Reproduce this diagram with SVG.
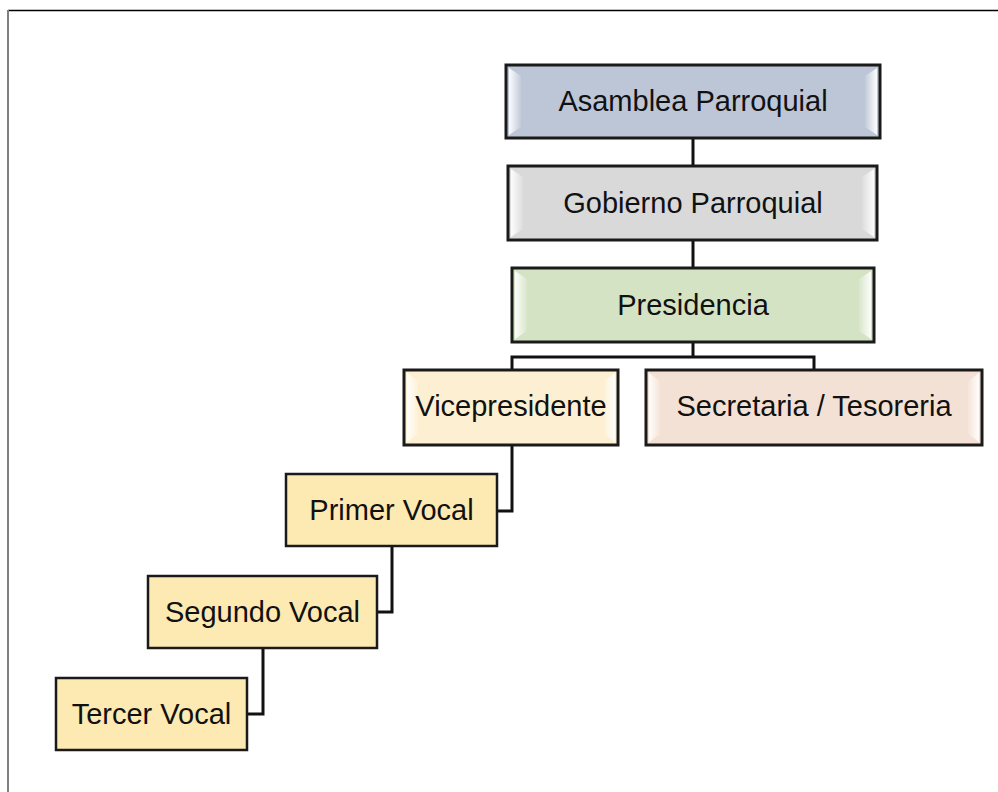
<svg xmlns="http://www.w3.org/2000/svg" width="998" height="792" viewBox="0 0 998 792">
<defs>
<linearGradient id="bevL" x1="0" y1="0" x2="1" y2="0">
<stop offset="0" stop-color="#ffffff" stop-opacity="0.95"/>
<stop offset="1" stop-color="#ffffff" stop-opacity="0.1"/>
</linearGradient>
<linearGradient id="bevR" x1="1" y1="0" x2="0" y2="0">
<stop offset="0" stop-color="#ffffff" stop-opacity="0.95"/>
<stop offset="1" stop-color="#ffffff" stop-opacity="0.1"/>
</linearGradient>
<style>
.box{stroke:#1a1a1a;stroke-width:3}
.vbox{stroke:#1a1a1a;stroke-width:2.5;fill:#fde9b2}
.lbl{font-family:"Liberation Sans",Arial,sans-serif;font-size:29px;fill:#111;text-anchor:middle}
.conn{fill:none;stroke:#111;stroke-width:3}
.bl{fill:url(#bevL)}
.br{fill:url(#bevR)}
</style>
</defs>
<rect width="998" height="792" fill="#ffffff"/>
<line x1="8" y1="10.5" x2="998" y2="10.5" stroke="#000" stroke-width="1.5"/>
<line x1="8" y1="10" x2="8" y2="792" stroke="#808080" stroke-width="2"/>

<g id="connectors">
<path class="conn" d="M693 138 V166"/>
<path class="conn" d="M693 240 V268"/>
<path class="conn" d="M693 342 V357 M512 370 V357 H814 V370"/>
<path class="conn" d="M512 445 V511 H497"/>
<path class="conn" d="M392 546 V612 H377"/>
<path class="conn" d="M263 648 V714 H247"/>
</g>

<g id="asamblea">
<rect class="box" x="506" y="65" width="374" height="73" fill="#bcc6d6"/>
<polygon class="bl" points="509,68 521,76 521,127 509,135"/>
<polygon class="br" points="877,68 865,76 865,127 877,135"/>
<text class="lbl" x="693" y="111">Asamblea Parroquial</text>
</g>

<g id="gobierno">
<rect class="box" x="508" y="166" width="369" height="74" fill="#d9d9d9"/>
<polygon class="bl" points="511,169 523,177 523,229 511,237"/>
<polygon class="br" points="874,169 862,177 862,229 874,237"/>
<text class="lbl" x="693" y="213">Gobierno Parroquial</text>
</g>

<g id="presidencia">
<rect class="box" x="512" y="268" width="362" height="74" fill="#d4e3c4"/>
<polygon class="bl" points="515,271 527,279 527,331 515,339"/>
<polygon class="br" points="871,271 859,279 859,331 871,339"/>
<text class="lbl" x="693" y="315">Presidencia</text>
</g>

<g id="vicepresidente">
<rect class="box" x="404" y="370" width="214" height="75" fill="#fdf0d2"/>
<polygon class="bl" points="407,373 418,381 418,434 407,442"/>
<polygon class="br" points="615,373 604,381 604,434 615,442"/>
<text class="lbl" x="511" y="416">Vicepresidente</text>
</g>

<g id="secretaria">
<rect class="box" x="646" y="370" width="336" height="75" fill="#f4e1d5"/>
<polygon class="bl" points="649,373 660,381 660,434 649,442"/>
<polygon class="br" points="979,373 968,381 968,434 979,442"/>
<text class="lbl" x="814" y="416">Secretaria / Tesoreria</text>
</g>

<g id="primer">
<rect class="vbox" x="286" y="474" width="211" height="72"/>
<text class="lbl" x="391.5" y="520">Primer Vocal</text>
</g>

<g id="segundo">
<rect class="vbox" x="148" y="576" width="229" height="72"/>
<text class="lbl" x="262.5" y="622">Segundo Vocal</text>
</g>

<g id="tercer">
<rect class="vbox" x="56" y="678" width="191" height="72"/>
<text class="lbl" x="151.5" y="724">Tercer Vocal</text>
</g>
</svg>
